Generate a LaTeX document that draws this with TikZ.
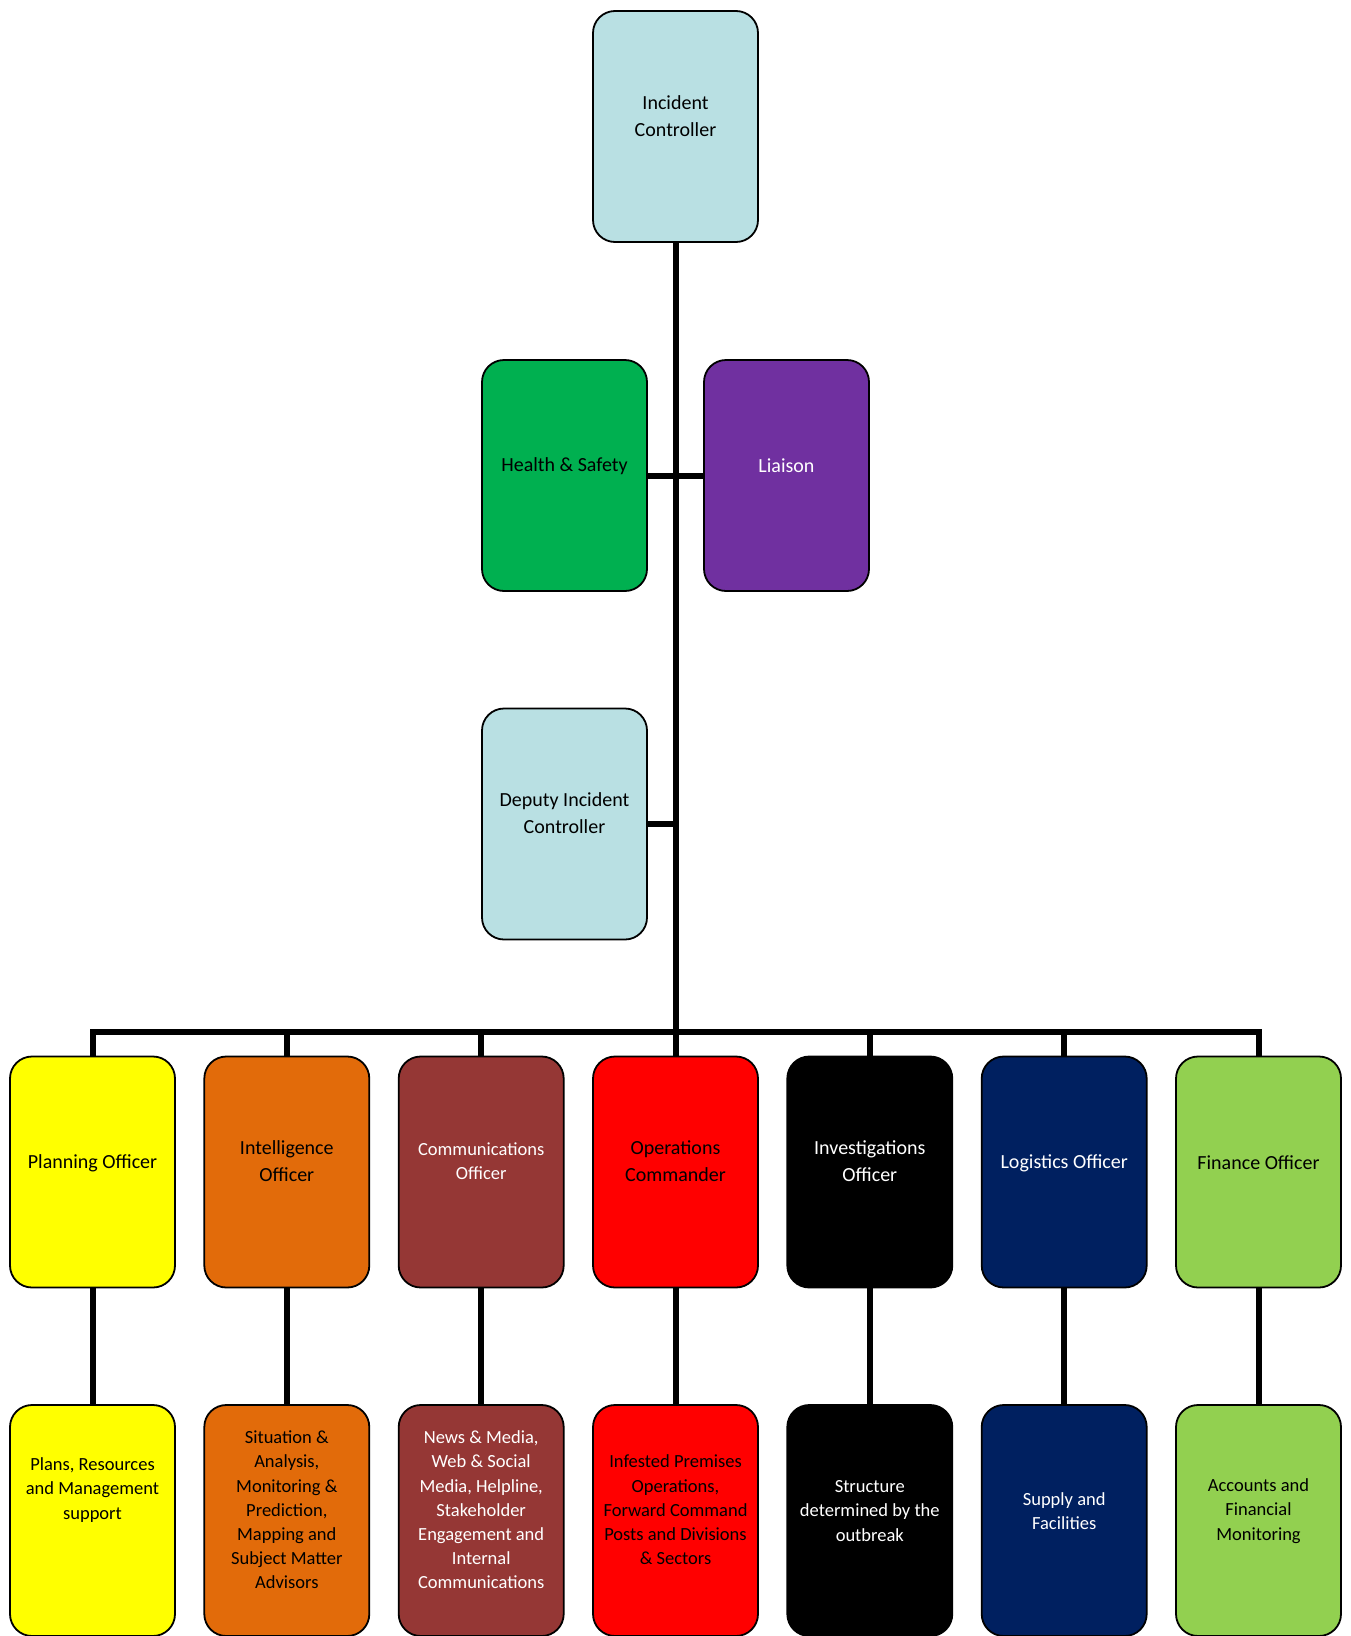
\documentclass[tikz,border=0pt]{standalone}
\usepackage{fontspec}
\setmainfont{Carlito}
\usetikzlibrary{backgrounds}
\definecolor{lblue}{HTML}{B9E0E3}
\definecolor{hsgreen}{HTML}{00B050}
\definecolor{lipurple}{HTML}{7030A0}
\definecolor{plyellow}{HTML}{FFFF00}
\definecolor{inorange}{HTML}{E26B0A}
\definecolor{cobrown}{HTML}{953735}
\definecolor{opred}{HTML}{FF0000}
\definecolor{lgnavy}{HTML}{002060}
\definecolor{figreen}{HTML}{92D050}
\begin{document}
\begin{tikzpicture}[x=1pt,y=-1pt]
\tikzset{
 box/.style={draw=black, line width=1.8pt, rounded corners=22pt, minimum width=165pt, minimum height=231pt, inner sep=0pt},
 txt/.style={align=center, inner sep=0pt, font=\fontsize{20}{26.5}\selectfont},
 stxt/.style={align=center, inner sep=0pt, font=\fontsize{18.5}{24.2}\selectfont},
 conn/.style={line width=6pt, draw=black},
}
\useasboundingbox (0,0) rectangle (1350,1636);
% boxes
\node[box, fill=lblue] (ic) at (675.5,126.5) {};
\node[box, fill=hsgreen] (hs) at (564.5,475.5) {};
\node[box, fill=lipurple] (li) at (786.5,475.5) {};
\node[box, fill=lblue] (dep) at (564.5,824) {};
\node[box, fill=plyellow] (pl) at (92.5,1172) {};
\node[box, fill=inorange] (in) at (286.8,1172) {};
\node[box, fill=cobrown] (co) at (481.2,1172) {};
\node[box, fill=opred] (op) at (675.5,1172) {};
\node[box, fill=black] (iv) at (869.8,1172) {};
\node[box, fill=lgnavy] (lg) at (1064.2,1172) {};
\node[box, fill=figreen] (fi) at (1258.5,1172) {};
\node[box, fill=plyellow] (pl2) at (92.5,1520.5) {};
\node[box, fill=inorange] (in2) at (286.8,1520.5) {};
\node[box, fill=cobrown] (co2) at (481.2,1520.5) {};
\node[box, fill=opred] (op2) at (675.5,1520.5) {};
\node[box, fill=black] (iv2) at (869.8,1520.5) {};
\node[box, fill=lgnavy] (lg2) at (1064.2,1520.5) {};
\node[box, fill=figreen] (fi2) at (1258.5,1520.5) {};
% texts
\node[txt] (ic-t) at (675.5,116) {Incident\\Controller};
\node[txt] (hs-t) at (564.5,466) {Health \& Safety};
\node[txt, text=white] (li-t) at (786.5,466) {Liaison};
\node[txt] (dep-t) at (564.5,813) {Deputy Incident\\Controller};
\node[txt] (pl-t) at (92.5,1163) {Planning Officer};
\node[txt] (in-t) at (286.8,1161) {Intelligence\\Officer};
\node[stxt, text=white] (co-t) at (481.2,1161.5) {Communications\\Officer};
\node[txt] (op-t) at (675.5,1161) {Operations\\Commander};
\node[txt, text=white] (iv-t) at (869.8,1161) {Investigations\\Officer};
\node[txt, text=white] (lg-t) at (1064.2,1163) {Logistics Officer};
\node[txt] (fi-t) at (1258.5,1163) {Finance Officer};
\node[stxt] (pl2-t) at (92.5,1490) {Plans, Resources\\and Management\\support};
\node[stxt] (in2-t) at (286.8,1510) {Situation \&\\Analysis,\\Monitoring \&\\Prediction,\\Mapping and\\Subject Matter\\Advisors};
\node[stxt, text=white] (co2-t) at (481.2,1510) {News \& Media,\\Web \& Social\\Media, Helpline,\\Stakeholder\\Engagement and\\Internal\\Communications};
\node[stxt] (op2-t) at (675.5,1510) {Infested Premises\\Operations,\\Forward Command\\Posts and Divisions\\\& Sectors};
\node[stxt, text=white] (iv2-t) at (869.8,1511) {Structure\\determined by the\\outbreak};
\node[stxt, text=white] (lg2-t) at (1064.2,1511) {Supply and\\Facilities};
\node[stxt] (fi2-t) at (1258.5,1511) {Accounts and\\Financial\\Monitoring};
\coordinate (bus) at (675.5,1032);
% connectors
\begin{scope}[on background layer]
\draw[conn] (ic.south) -- (op.north);
\draw[conn] (hs.east) -- (li.west);
\draw[conn] (dep.east) -- (dep.east -| ic.south);
\draw[conn, line join=miter] (pl.north) |- (fi.north |- bus) -- (fi.north);
\foreach \n in {in,co,iv,lg} {\draw[conn] (\n.north) -- (\n.north |- bus);}
\foreach \n in {pl,in,co,op,iv,lg,fi} {\draw[conn] (\n.south) -- (\n2.north);}
\end{scope}
\end{tikzpicture}
\end{document}
